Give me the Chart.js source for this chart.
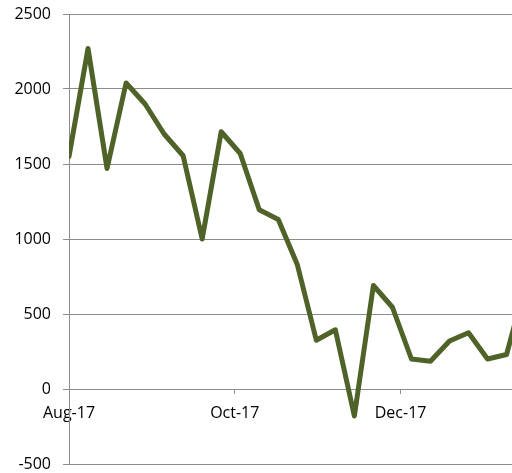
<!DOCTYPE html>
<html>
<head>
<meta charset="utf-8">
<script src="https://cdn.jsdelivr.net/npm/chart.js@4/dist/chart.umd.min.js"></script>
<style>
  body { margin: 0; background: #fff; }
  #wrap { width: 512px; height: 473px; }
</style>
</head>
<body>
<div id="wrap"><canvas id="lineChart" width="512" height="473"></canvas></div>
<script>
// weekly dates (categories)
const dates = ['2017-08-01', '2017-08-08', '2017-08-15', '2017-08-22', '2017-08-29',
    '2017-09-05', '2017-09-12', '2017-09-19', '2017-09-26', '2017-10-03',
    '2017-10-10', '2017-10-17', '2017-10-24', '2017-10-31', '2017-11-07',
    '2017-11-14', '2017-11-21', '2017-11-28', '2017-12-05', '2017-12-12',
    '2017-12-19', '2017-12-26', '2018-01-02', '2018-01-09', '2018-01-16'];
const values = [1550, 2270, 1470, 2040, 1900, 1700, 1555, 1000, 1715, 1570,
    1195, 1130, 830, 325, 395, -180, 690, 545, 200, 185,
    320, 375, 200, 230, 700];

const xTickDates = ['2017-08-01', '2017-10-01', '2017-12-01'];
const xTickLabels = ['Aug-17', 'Oct-17', 'Dec-17'];
const yTicks = [-500, 0, 500, 1000, 1500, 2000, 2500];
const axisEnd = '2018-01-11';

const DAY = 86400000;
const base = Date.parse(dates[0]);
const toDay = d => (Date.parse(d) - base) / DAY;

const points = dates.map((d, i) => ({ x: toDay(d), y: values[i] }));
const tickDays = xTickDates.map(toDay);

const gridGray = '#8c8c8c';
const font = { family: '"Open Sans", sans-serif', size: 16 };

const ctx = document.getElementById('lineChart').getContext('2d');
const lineChart = new Chart(ctx, {
    type: 'line',
    data: {
        datasets: [{
            data: points,
            borderColor: '#4f6228',
            borderWidth: 5,
            borderJoinStyle: 'round',
            borderCapStyle: 'round',
            pointRadius: 0,
            tension: 0,
            fill: false
        }]
    },
    options: {
        responsive: false,
        animation: false,
        layout: { padding: { top: 14, bottom: 9, left: 0, right: 0 } },
        plugins: {
            legend: { display: false },
            tooltip: { enabled: false }
        },
        scales: {
            x: {
                type: 'linear',
                position: { y: 0 },
                min: 0,
                max: toDay(axisEnd),
                afterBuildTicks: scale => {
                    scale.ticks = tickDays.map(v => ({ value: v }));
                },
                ticks: {
                    autoSkip: false,
                    maxRotation: 0,
                    color: '#000',
                    font: font,
                    padding: 10,
                    callback: (v) => {
                        const i = tickDays.indexOf(v);
                        return i >= 0 ? xTickLabels[i] : '';
                    }
                },
                grid: {
                    display: true,
                    drawOnChartArea: false,
                    tickLength: 5,
                    color: gridGray,
                    lineWidth: 1
                },
                border: { display: false }
            },
            y: {
                min: yTicks[0],
                max: yTicks[yTicks.length - 1],
                afterFit: scale => {
                    scale.width = 69;
                    scale.paddingTop = 0;
                    scale.paddingBottom = 0;
                },
                ticks: {
                    stepSize: yTicks[1] - yTicks[0],
                    color: '#000',
                    font: font,
                    padding: 12,
                    callback: v => String(v)
                },
                grid: {
                    color: gridGray,
                    lineWidth: 1,
                    tickLength: 6
                },
                border: { display: true, color: gridGray, width: 1 }
            }
        }
    }
});
</script>
</body>
</html>
